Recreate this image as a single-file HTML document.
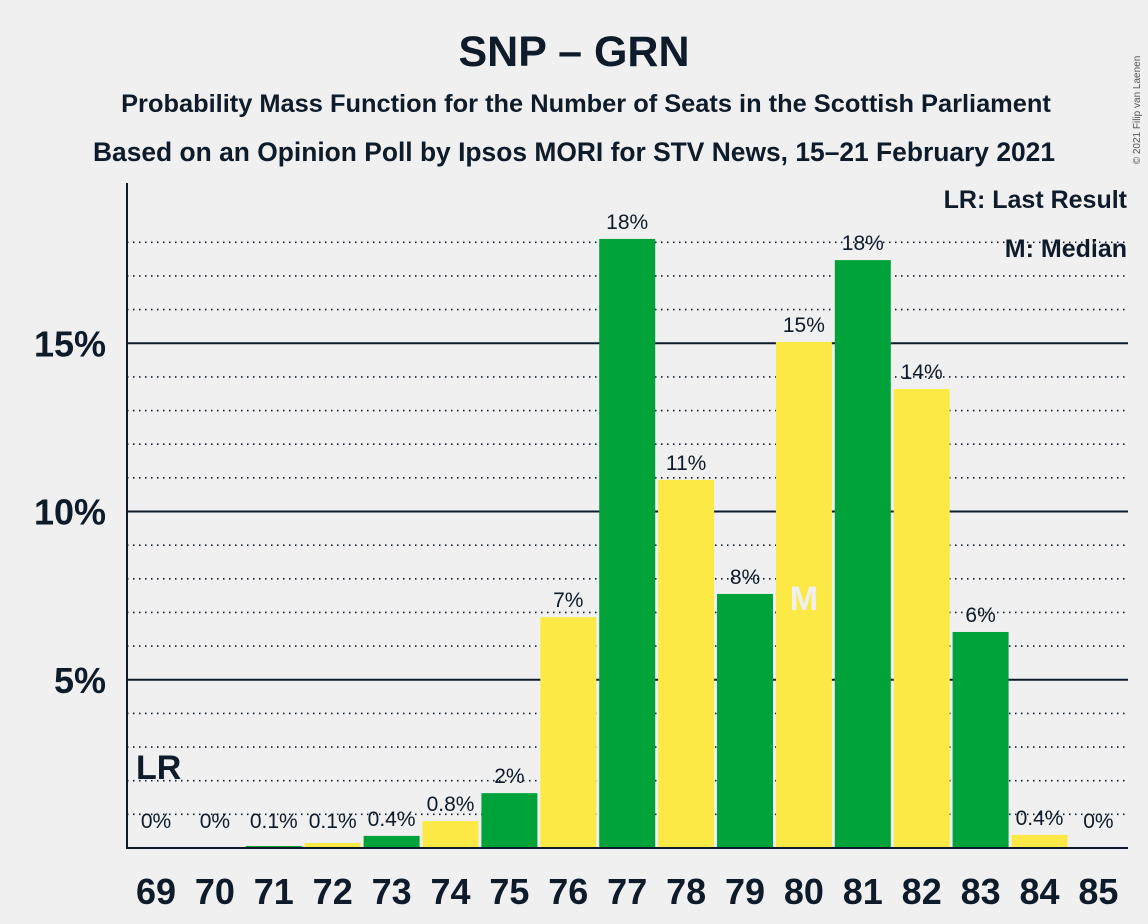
<!DOCTYPE html>
<html><head><meta charset="utf-8"><style>
body{margin:0;background:#f0f0f0;}
svg{display:block;font-family:"Liberation Sans",sans-serif;}
</style></head><body>
<svg id="c" width="1148" height="924" viewBox="0 0 1148 924">
<rect width="1148" height="924" fill="#f0f0f0"/>
<text x="574" y="66" text-anchor="middle" font-size="43" font-weight="bold" fill="#0d1b2a">SNP – GRN</text>
<text x="586" y="112" text-anchor="middle" font-size="25.4" font-weight="bold" fill="#0d1b2a">Probability Mass Function for the Number of Seats in the Scottish Parliament</text>
<text x="574" y="161" text-anchor="middle" font-size="26.4" font-weight="bold" fill="#0d1b2a">Based on an Opinion Poll by Ipsos MORI for STV News, 15–21 February 2021</text>
<text x="1140" y="110" font-size="10" fill="#555" transform="rotate(-90 1140 110)" text-anchor="middle">© 2021 Filip van Laenen</text>
<g id="grid"></g>
<g id="bars"></g>
<line x1="127" y1="183" x2="127" y2="849" stroke="#0d1b2a" stroke-width="2"/>
<line x1="126" y1="848" x2="1128" y2="848" stroke="#0d1b2a" stroke-width="2"/>
<text x="1127" y="208" text-anchor="end" font-size="25" font-weight="bold" fill="#0d1b2a">LR: Last Result</text>
<text x="1127" y="257" text-anchor="end" font-size="25" font-weight="bold" fill="#0d1b2a">M: Median</text>
</svg>
<script>
const seats=[69,70,71,72,73,74,75,76,77,78,79,80,81,82,83,84,85];
const values=[0,0,0.06,0.15,0.36,0.8,1.63,6.86,18.1,10.94,7.55,15.04,17.47,13.64,6.42,0.39,0];
const labels=["0%","0%","0.1%","0.1%","0.4%","0.8%","2%","7%","18%","11%","8%","15%","18%","14%","6%","0.4%","0%"];
const yTicks=[5,10,15];
const lastResult=69, median=80;
const NS="http://www.w3.org/2000/svg";
const y=v=>848-v*33.65;
const xl=s=>156-28+(s-69)*58.9;
function mk(tag,attrs,parent){const e=document.createElementNS(NS,tag);for(const k in attrs)e.setAttribute(k,attrs[k]);parent.appendChild(e);return e;}
const grid=document.getElementById('grid'),bars=document.getElementById('bars');
for(let v=1;v<=18;v++){
  const solid=yTicks.includes(v);
  const l=mk('line',{x1:127,x2:1128,y1:y(v),y2:y(v),stroke:'#0d1b2a','stroke-width':solid?2:1.6,'stroke-dasharray':solid?'none':'1.5 4.5'},grid);
  
  
  if(solid){const t=mk('text',{x:106,y:y(v)+13,'text-anchor':'end','font-size':36,'font-weight':'bold',fill:'#0d1b2a'},grid);t.textContent=v+'%';
    
    }
}
seats.forEach((s,i)=>{
  const v=values[i],x=xl(s),cx=x+28;
  if(v>0){const r=mk('rect',{x:x,y:y(v),width:56,height:848-y(v),fill:s%2?'#00a339':'#fde945'},bars);
    
    }
  const t=mk('text',{x:cx,y:Math.min(y(v),838)-10,'text-anchor':'middle','font-size':21,fill:'#0d1b2a'},bars);t.textContent=labels[i];
  
  
  const xt=mk('text',{x:cx,y:904,'text-anchor':'middle','font-size':36,'font-weight':'bold',fill:'#0d1b2a'},bars);xt.textContent=s;
  
  
  if(s===lastResult){const lr=mk('text',{x:x+8,y:779,'font-size':34,'font-weight':'bold',fill:'#0d1b2a'},bars);lr.textContent='LR';
    
    }
  if(s===median){const m=mk('text',{x:cx,y:610,'text-anchor':'middle','font-size':34,'font-weight':'bold',fill:'#f0f0f0'},bars);m.textContent='M';
    
    }
});
</script>
</body></html>
